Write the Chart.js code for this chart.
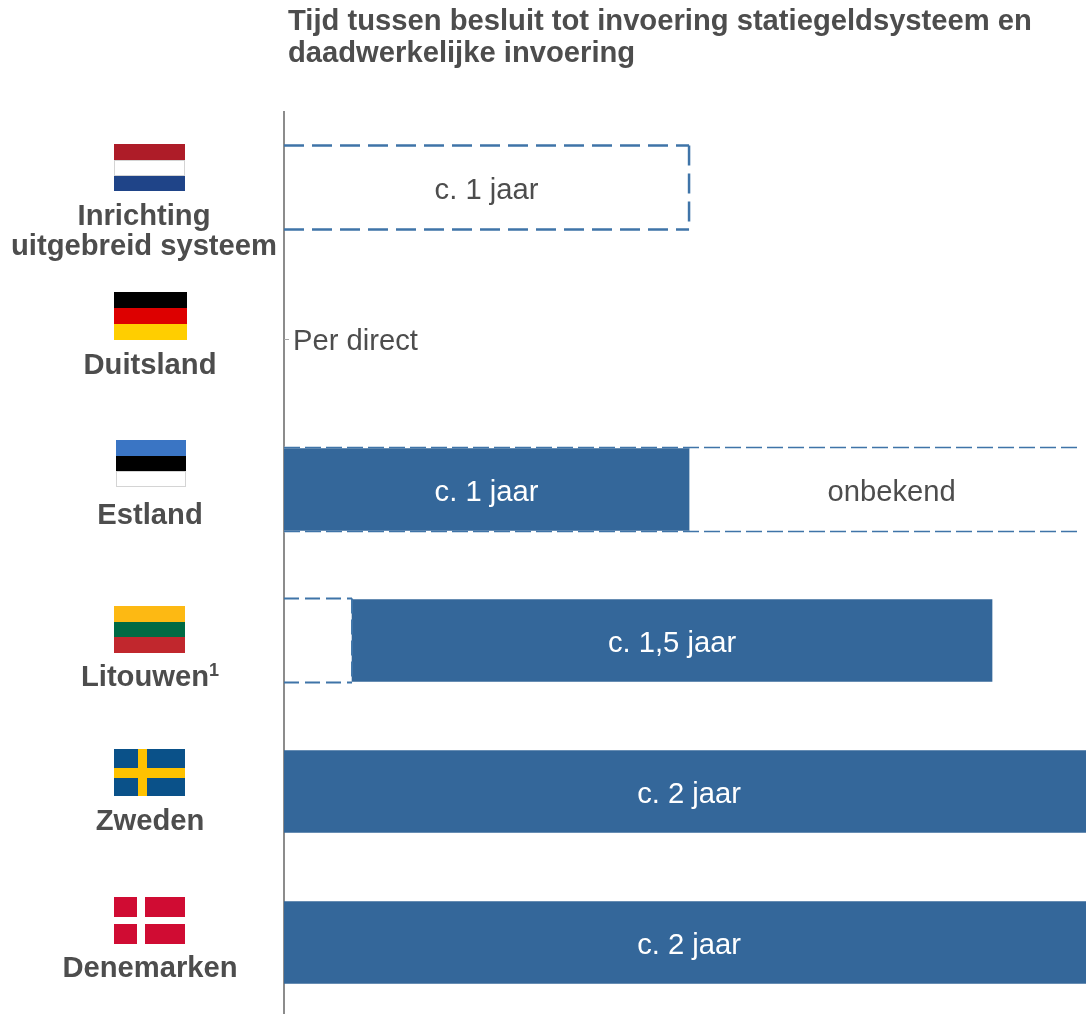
<!DOCTYPE html>
<html lang="nl">
  <head>
    <meta charset="UTF-8" />
    <title>Tijd tussen besluit en invoering</title>
    <style>
      html,
      body {
        margin: 0;
        padding: 0;
        background: #fff;
        overflow: hidden;
        height: 1014px;
      }
      #wrap {
        position: relative;
        width: 1086px;
        height: 1018px;
      }
    </style>
  </head>
  <body>
    <div id="wrap"><canvas id="chart"></canvas></div>
    <script src="https://cdn.jsdelivr.net/npm/chart.js@4.4.0/dist/chart.umd.min.js"></script>
    <script>
      const titleLines = [
        'Tijd tussen besluit tot invoering statiegeldsysteem en',
        'daadwerkelijke invoering',
      ];
      const categories = ['Nederland', 'Duitsland', 'Estland', 'Litouwen', 'Zweden', 'Denemarken'];
      const rowLabels = [
        ['Inrichting', 'uitgebreid systeem'],
        ['Duitsland'],
        ['Estland'],
        ['Litouwen'],
        ['Zweden'],
        ['Denemarken'],
      ];
      const rowNotes = ['', '', '', '1', '', ''];

      // years, [start, end]
      const firmRanges = [null, null, null, [0.168, 1.748], [0, 2], [0, 2]];
      const firmEstonia = [null, null, [0, 1], null, null, null];
      const openRanges = [[0, 1], null, [0, 1.958], [0, 0.168], null, null];
      const immediate = [null, 0, null, null, null, null];

      const firmLabels = ['', '', 'c. 1 jaar', 'c. 1,5 jaar', 'c. 2 jaar', 'c. 2 jaar'];
      const firmLabelAt = [null, null, 0.5, 0.958, 1, 1];
      const openLabels = ['c. 1 jaar', '', 'onbekend', '', '', ''];
      const openLabelAt = [0.5, null, 1.5, null, null, null];
      const immediateLabel = 'Per direct';

      // flag stripes, top to bottom
      const flagStripes = [
        ['#ae1c28', '#ffffff', '#1f4488'],
        ['#000000', '#dd0000', '#ffce00'],
        ['#3a75c4', '#000000', '#ffffff'],
        ['#fdb913', '#006a44', '#c1272d'],
        ['#0a5189', '#0a5189', '#0a5189'],
        ['#d00c33', '#d00c33', '#d00c33'],
      ];

      const BLUE = '#34679a';
      const DASH_BLUE = '#3f74a8';
      const TEXT = '#4d4d4d';
      const FONT = '"Liberation Sans", Arial, sans-serif';
      const TEXT_SIZE = 29.2;

      // layout per row, absolute y of the flag, label offset from the row centre
      const flagLayout = [
        { x: 114, w: 71, y: 144, h: 47 },
        { x: 114, w: 73, y: 292, h: 48 },
        { x: 116, w: 70, y: 440, h: 47 },
        { x: 114, w: 71, y: 606, h: 47 },
        { x: 114, w: 71, y: 749, h: 47 },
        { x: 114, w: 71, y: 897, h: 47 },
      ];
      const labelLayout = [
        { x: 144, y: 29.5 },
        { x: 150, y: 27 },
        { x: 150, y: 26.5 },
        { x: 145, y: 37.5 },
        { x: 150, y: 30.5 },
        { x: 150, y: 26.5 },
      ];
      const dashLayout = [
        { dash: [20, 8], width: 2.5, closed: true },
        null,
        { dash: [16, 5], width: 1.5, closed: false },
        { dash: [15, 6], width: 2, closed: true },
        null,
        null,
      ];

      function drawFlag(ctx, i, f) {
        const s = f.h / 3;
        flagStripes[i].forEach((c, k) => {
          ctx.fillStyle = c;
          ctx.fillRect(f.x, Math.round(f.y + k * s), f.w, Math.round(f.y + (k + 1) * s) - Math.round(f.y + k * s));
        });
        if (i === 0 || i === 2) {
          const k = i === 0 ? 1 : 2;
          const top = Math.round(f.y + k * s);
          ctx.strokeStyle = '#d4d4d4';
          ctx.lineWidth = 1;
          ctx.strokeRect(f.x + 0.5, top + 0.5, f.w - 1, Math.round(s) - 1);
        }
        if (i === 4) {
          ctx.fillStyle = '#fec200';
          ctx.fillRect(f.x + 24, f.y, 9, f.h);
          ctx.fillRect(f.x, f.y + 19, f.w, 10);
        }
        if (i === 5) {
          ctx.fillStyle = '#ffffff';
          ctx.fillRect(f.x + 23, f.y, 8, f.h);
          ctx.fillRect(f.x, f.y + 20, f.w, 7);
        }
      }

      function dashedLine(ctx, x0, y0, x1, y1) {
        ctx.beginPath();
        ctx.moveTo(x0, y0);
        ctx.lineTo(x1, y1);
        ctx.stroke();
      }

      const annotations = {
        id: 'annotations',
        afterDatasetsDraw(chart) {
          const { ctx, scales } = chart;
          const xs = scales.x;
          const ys = scales.y;
          const openMeta = chart.getDatasetMeta(2);

          ctx.save();
          ctx.lineCap = 'butt';

          // title
          ctx.fillStyle = TEXT;
          ctx.font = 'bold ' + TEXT_SIZE + 'px ' + FONT;
          ctx.textAlign = 'left';
          ctx.textBaseline = 'middle';
          titleLines.forEach((line, i) => ctx.fillText(line, 288, 22 + i * 32));

          categories.forEach((name, i) => {
            const cy = ys.getPixelForValue(i);

            // dashed outline of the open ranges
            if (openRanges[i]) {
              const el = openMeta.data[i];
              const top = el.y - el.height / 2;
              const bottom = el.y + el.height / 2;
              const left = xs.getPixelForValue(openRanges[i][0]);
              const right = xs.getPixelForValue(openRanges[i][1]);
              const d = dashLayout[i];
              ctx.lineWidth = d.width;
              if (firmEstonia[i]) {
                // gaps show white over the filled part
                ctx.strokeStyle = '#ffffff';
                const fillEnd = xs.getPixelForValue(firmEstonia[i][1]);
                dashedLine(ctx, left, top, fillEnd, top);
                dashedLine(ctx, left, bottom, fillEnd, bottom);
              }
              ctx.strokeStyle = DASH_BLUE;
              ctx.setLineDash(d.dash);
              dashedLine(ctx, left, top, right, top);
              dashedLine(ctx, left, bottom, right, bottom);
              if (d.closed) dashedLine(ctx, right, top, right, bottom);
              ctx.setLineDash([]);
            }

            // flag and row label
            drawFlag(ctx, i, flagLayout[i]);
            const l = labelLayout[i];
            ctx.fillStyle = TEXT;
            ctx.font = 'bold ' + TEXT_SIZE + 'px ' + FONT;
            ctx.textAlign = 'center';
            rowLabels[i].forEach((line, k) => {
              ctx.fillText(line, l.x, cy + l.y + k * 30);
            });
            if (rowNotes[i]) {
              const w = ctx.measureText(rowLabels[i][0]).width;
              ctx.font = 'bold 18px ' + FONT;
              ctx.textAlign = 'left';
              ctx.fillText(rowNotes[i], l.x + w / 2, cy + l.y - 7);
              ctx.textAlign = 'center';
            }

            // value labels
            ctx.font = TEXT_SIZE + 'px ' + FONT;
            if (firmLabels[i]) {
              ctx.fillStyle = '#ffffff';
              ctx.fillText(firmLabels[i], xs.getPixelForValue(firmLabelAt[i]), cy + 3);
            }
            if (openLabels[i]) {
              ctx.fillStyle = TEXT;
              ctx.fillText(openLabels[i], xs.getPixelForValue(openLabelAt[i]), cy + 3);
            }
            if (immediate[i] !== null) {
              const x0 = xs.getPixelForValue(immediate[i]);
              ctx.strokeStyle = '#a6a6a6';
              ctx.lineWidth = 1;
              dashedLine(ctx, x0, Math.round(cy) + 0.5, x0 + 5, Math.round(cy) + 0.5);
              ctx.fillStyle = TEXT;
              ctx.textAlign = 'left';
              ctx.fillText(immediateLabel, x0 + 9, cy + 3);
            }
          });

          ctx.restore();
        },
      };

      new Chart(document.getElementById('chart'), {
        type: 'bar',
        data: {
          labels: categories,
          datasets: [
            { data: firmRanges, backgroundColor: BLUE, barThickness: 82, grouped: false },
            { data: firmEstonia, backgroundColor: BLUE, barThickness: 84, grouped: false },
            { data: openRanges, backgroundColor: 'rgba(0,0,0,0)', barThickness: 84, grouped: false },
          ],
        },
        options: {
          indexAxis: 'y',
          responsive: true,
          maintainAspectRatio: false,
          animation: false,
          layout: { padding: { top: 112, bottom: 0, left: 0, right: 0 } },
          plugins: {
            legend: { display: false },
            tooltip: { enabled: false },
          },
          scales: {
            x: { display: false, min: 0, max: 1.98, grid: { display: false } },
            y: {
              grid: { display: false, drawTicks: false },
              ticks: { display: false },
              border: { color: '#8c8c8c', width: 2 },
              afterFit(axis) {
                axis.width = 284;
              },
            },
          },
        },
        plugins: [annotations],
      });
    </script>
  </body>
</html>
